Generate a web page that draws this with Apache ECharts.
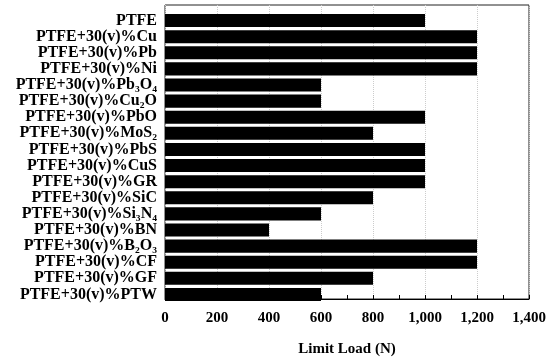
<!DOCTYPE html>
<html>
<head>
<meta charset="utf-8">
<script src="https://cdn.jsdelivr.net/npm/echarts@6/dist/echarts.min.js"></script>
<style>
  html, body { margin: 0; padding: 0; background: #fff; }
  #chart { width: 556px; height: 362px; }
</style>
</head>
<body>
<div id="chart"></div>
<script>
var categories = [
  'PTFE', 'PTFE+30(v)%Cu', 'PTFE+30(v)%Pb', 'PTFE+30(v)%Ni',
  'PTFE+30(v)%Pb₃O₄', 'PTFE+30(v)%Cu₂O', 'PTFE+30(v)%PbO', 'PTFE+30(v)%MoS₂',
  'PTFE+30(v)%PbS', 'PTFE+30(v)%CuS', 'PTFE+30(v)%GR', 'PTFE+30(v)%SiC',
  'PTFE+30(v)%Si₃N₄', 'PTFE+30(v)%BN', 'PTFE+30(v)%B₂O₃', 'PTFE+30(v)%CF',
  'PTFE+30(v)%GF', 'PTFE+30(v)%PTW'
];
var limitLoad = [1000, 1200, 1200, 1200, 600, 600, 1000, 800, 1000, 1000, 1000, 800, 600, 400, 1200, 1200, 800, 600];
var xTicks = { min: 0, max: 1400, interval: 200 };

var myChart = echarts.init(document.getElementById('chart'));
var serif = '"Liberation Serif", "DejaVu Serif", serif';
var option = {
  backgroundColor: '#fff',
  animation: false,
  grid: [
    // frame + x axis
    { left: 165, right: 27, top: 5, bottom: 53, show: true, borderColor: '#222', borderWidth: 1 },
    // bars sit a bit inside the frame
    { left: 165, right: 27, top: 12.5, bottom: 59.5 }
  ],
  xAxis: [{
    gridIndex: 0,
    type: 'value',
    min: xTicks.min, max: xTicks.max, interval: xTicks.interval,
    name: 'Limit Load (N)',
    nameLocation: 'middle',
    nameGap: 43,
    nameTextStyle: { fontFamily: serif, fontWeight: 'bold', fontSize: 15, color: '#000' },
    axisLine: { show: true, lineStyle: { color: '#000', width: 1 } },
    axisTick: { show: true, inside: true, length: 4, lineStyle: { color: '#000' } },
    minorTick: { show: true, splitNumber: 2, length: 4, lineStyle: { color: '#000' } },
    axisLabel: {
      fontFamily: serif, fontWeight: 'bold', fontSize: 15, color: '#000', margin: 12,
      formatter: function (v) { return v.toLocaleString('en-US'); }
    },
    splitLine: { show: true, lineStyle: { color: '#ccc', type: 'dotted', width: 1 } }
  }, {
    gridIndex: 1,
    type: 'value',
    min: xTicks.min, max: xTicks.max, interval: xTicks.interval,
    show: false
  }],
  yAxis: [{
    gridIndex: 0,
    type: 'value',
    show: false
  }, {
    gridIndex: 1,
    type: 'category',
    data: categories,
    inverse: true,
    axisLine: { show: false },
    axisTick: { show: false },
    axisLabel: {
      interval: 0,
      fontFamily: serif, fontWeight: 'bold', fontSize: 16, color: '#000', margin: 8
    },
    splitLine: { show: false }
  }],
  series: [{
    type: 'bar',
    xAxisIndex: 1,
    yAxisIndex: 1,
    data: limitLoad,
    barCategoryGap: '19%',
    itemStyle: { color: '#000' }
  }]
};
myChart.setOption(option);
window.addEventListener('resize', function () { myChart.resize(); });
</script>
</body>
</html>
